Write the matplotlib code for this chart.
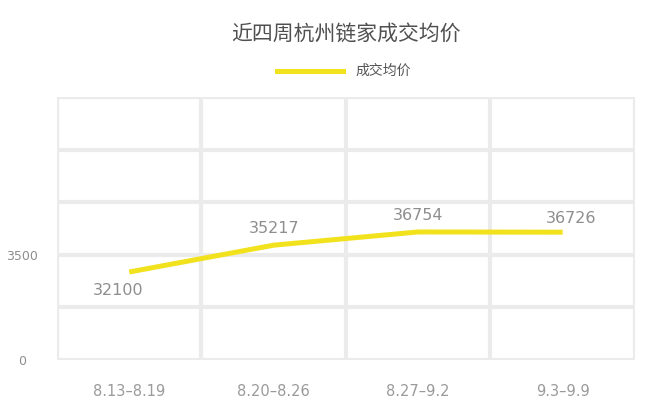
import matplotlib
matplotlib.use('Agg')
import matplotlib.pyplot as plt
import numpy as np

plt.rcParams['font.family'] = ['Noto Sans CJK SC', 'DejaVu Sans']

# Data
weeks = ['8.13–8.19', '8.20–8.26', '8.27–9.2', '9.3–9.9']
avg_price = [32100, 35217, 36754, 36726]
ytick_labels = ['0', '3500']

title = '近四周杭州链家成交均价'
series_name = '成交均价'

fig = plt.figure(figsize=(6.5, 4.15), dpi=100)
ax = fig.add_axes([0.0877, 0.1325, 0.889, 0.634])

x = np.arange(len(weeks))
ax.plot(x, avg_price, color='#f2e21e', lw=3.6, solid_capstyle='butt', zorder=3)

# value labels
for i, v in enumerate(avg_price):
    if i == 0:
        off = (-8, -13)
    elif i == 3:
        off = (6, 10)
    else:
        off = (0, 12)
    ax.annotate(str(v), (x[i], v), xytext=off, textcoords='offset points',
                ha='center', va='center', fontsize=11.5, color='#8e8e8e',
                family='DejaVu Sans')

ymin, ymax = 21870, 52450
ax.set_xlim(-0.5, len(weeks) - 0.5)
ax.set_ylim(ymin, ymax)

# grid cells
gy = np.linspace(ymin, ymax, 6)
gx = np.arange(-0.5, len(weeks), 1.0)
for yy in gy:
    ax.axhline(yy, color='#ebebeb', lw=3, zorder=1)
for xx in gx:
    ax.axvline(xx, color='#ebebeb', lw=3, zorder=1)

for s in ax.spines.values():
    s.set_visible(False)

ax.set_xticks(x)
ax.set_xticklabels(weeks, family='DejaVu Sans', fontsize=10.5, color='#9a9a9a')
ax.set_yticks([gy[0], gy[2]])
ax.set_yticklabels(ytick_labels, family='DejaVu Sans', fontsize=9, color='#8e8e8e',
                   ha='center')
ax.tick_params(length=0, axis='x', pad=17)
ax.tick_params(length=0, axis='y', pad=25)

fig.text(0.532, 0.92, title, ha='center', va='center', fontsize=15, color='#505050')

# legend
fig.lines.append(plt.Line2D([277/650, 343/650], [1 - 71/415, 1 - 71/415],
                            transform=fig.transFigure, color='#f2e21e', lw=3.6))
fig.text(355/650, 1 - 71/415, series_name, ha='left', va='center',
         fontsize=10, color='#555555')

fig.savefig('out.png', dpi=100)
